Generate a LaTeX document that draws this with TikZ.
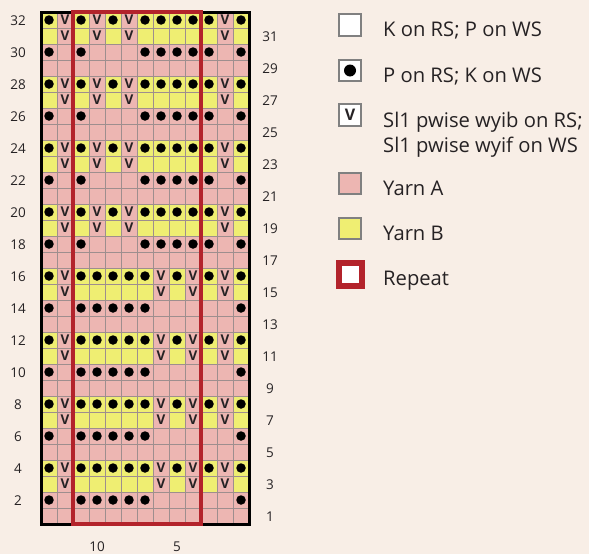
\documentclass[tikz,border=0pt]{standalone}
\usepackage{fontspec}
\setmainfont{Open Sans}
\definecolor{bg}{HTML}{F8EEE6}
\definecolor{yarnA}{HTML}{EDB6B2}
\definecolor{yarnB}{HTML}{EFEE72}
\definecolor{gridc}{HTML}{9E8E8E}
\definecolor{repred}{HTML}{B3232B}
\definecolor{txt}{HTML}{262224}
\definecolor{boxgray}{HTML}{808080}
\tikzset{
  dotmark/.style={circle, fill=black, inner sep=0pt, minimum size=9.5pt},
  slipmark/.style={font=\bfseries\fontsize{13.5}{13.5}\selectfont, text=txt, inner sep=0pt},
  gridln/.style={draw=gridc, line width=0.6pt},
  numlbl/.style={font=\fontsize{13.5}{13.5}\selectfont, text=txt, inner sep=0pt},
  legbox/.style={draw=boxgray, line width=1.8pt, minimum size=21.5pt, inner sep=0pt, fill=white},
  legtxt/.style={font=\fontsize{20.2}{24}\selectfont, text=txt, anchor=base west, inner sep=0pt},
}
\begin{document}
\begin{tikzpicture}[x=1pt,y=-1pt]
\useasboundingbox[fill=bg] (0,0) rectangle (589,554);
% base yarn A
\fill[yarnA] (41,12) rectangle (249,524);
% yarn B rows
\foreach \k in {0,...,3}{
  \fill[yarnB] (41,{524-16*(4*\k+4)}) rectangle (249,{524-16*(4*\k+2)});
  \fill[yarnB] (41,{524-16*(4*\k+20)}) rectangle (249,{524-16*(4*\k+18)});
}
% slipped cells (yarn A) and V marks
\foreach \k in {0,...,3}{
  \foreach \c in {2,8,10,12}{
    \foreach \r in {3,4}{
      \pgfmathtruncatemacro{\rr}{4*\k+\r}
      \fill[yarnA] ({25+16*\c},{524-16*\rr}) rectangle ++(16,16);
      \node[slipmark] (v-\rr-\c) at ({33+16*\c},{532-16*\rr}) {V};
    }
  }
  \foreach \c in {2,4,6,12}{
    \foreach \r in {19,20}{
      \pgfmathtruncatemacro{\rr}{4*\k+\r}
      \fill[yarnA] ({25+16*\c},{524-16*\rr}) rectangle ++(16,16);
      \node[slipmark] (v-\rr-\c) at ({33+16*\c},{532-16*\rr}) {V};
    }
  }
}
% grid lines
\foreach \c in {1,...,12} \draw[gridln] ({41+16*\c},12) -- ({41+16*\c},524);
\foreach \r in {1,...,31} \draw[gridln] (41,{12+16*\r}) -- (249,{12+16*\r});
% purl dots
\foreach \k in {0,...,3}{
  \foreach \c in {1,3,4,5,6,7,13}{
    \pgfmathtruncatemacro{\rr}{4*\k+2}
    \node[dotmark] (d-\rr-\c) at ({33+16*\c},{532-16*\rr}) {};
  }
  \foreach \c in {1,3,4,5,6,7,9,11,13}{
    \pgfmathtruncatemacro{\rr}{4*\k+4}
    \node[dotmark] (d-\rr-\c) at ({33+16*\c},{532-16*\rr}) {};
  }
  \foreach \c in {1,3,7,8,9,10,11,13}{
    \pgfmathtruncatemacro{\rr}{4*\k+18}
    \node[dotmark] (d-\rr-\c) at ({33+16*\c},{532-16*\rr}) {};
  }
  \foreach \c in {1,3,5,7,8,9,10,11,13}{
    \pgfmathtruncatemacro{\rr}{4*\k+20}
    \node[dotmark] (d-\rr-\c) at ({33+16*\c},{532-16*\rr}) {};
  }
}
% frame and repeat
\draw[black, line width=3pt] (41,12) rectangle (249,524);
\draw[repred, line width=3.5pt] (73,12) rectangle (201,524);
% row numbers
\foreach \r in {2,4,...,32} \node[numlbl] (L\r) at (18,{533-16*\r}) {\r};
\foreach \r in {1,3,...,31} \node[numlbl] (R\r) at (270,{533-16*\r}) {\r};
\node[numlbl] (s10) at (97,547) {10};
\node[numlbl] (s5) at (177,547) {5};
% legend
\node[legbox] (bK) at (350,25) {};
\node[legtxt] (tK) at (383,36.5) {K on RS; P on WS};
\node[legbox] (bP) at (350,70.5) {};
\node[dotmark, minimum size=12pt] (bPd) at (bP) {};
\node[legtxt] (tP) at (383,82) {P on RS; K on WS};
\node[legbox] (bV) at (350,115) {};
\node[slipmark, font=\bfseries\fontsize{16}{16}\selectfont] (bVv) at (bV) {V};
\node[legtxt] (tV1) at (383,127) {Sl1 pwise wyib on RS;};
\node[legtxt] (tV2) at (383,152) {Sl1 pwise wyif on WS};
\node[legbox, fill=yarnA] (bA) at (350,183.5) {};
\node[legtxt] (tA) at (383,195) {Yarn A};
\node[legbox, fill=yarnB] (bB) at (350,228.5) {};
\node[legtxt] (tB) at (383,240) {Yarn B};
\node[legbox, draw=repred, line width=6pt, minimum size=23pt] (bR) at (350,274) {};
\node[legtxt] (tR) at (383,285) {Repeat};
\end{tikzpicture}
\end{document}
